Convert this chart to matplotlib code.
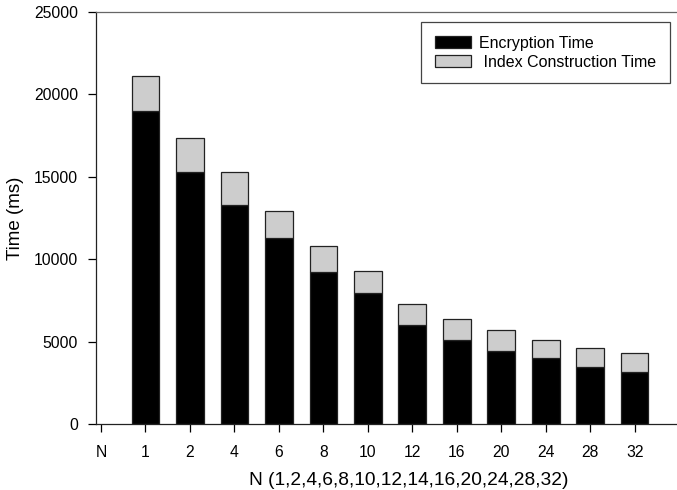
#!/usr/bin/env python3

import matplotlib
matplotlib.use('Agg')
import matplotlib.pyplot as plt
import numpy as np


# Datos del experimento
etiquetas = ['N', '1', '2', '4', '6', '8', '10', '12', '16', '20', '24', '28', '32']
encriptacion = [19000, 15300, 13300, 11270, 9200, 7970, 6000, 5100, 4450, 3990, 3480, 3180]
indice = [2100, 2030, 2000, 1680, 1580, 1330, 1300, 1270, 1250, 1130, 1110, 1110]

plt.rcParams['font.family'] = ['Liberation Sans', 'DejaVu Sans']

fig = plt.figure(figsize=(6.77, 4.9), dpi=100)
ax = fig.add_axes([96 / 677, 66 / 490, 625 / 677, 412 / 490])

x = np.arange(1, len(encriptacion) + 1)
ancho = 0.62
ax.bar(x, encriptacion, ancho, color='black', edgecolor='#222222',
       linewidth=0.9, label='Encryption Time')
ax.bar(x, indice, ancho, bottom=encriptacion, color='#cdcdcd',
       edgecolor='#222222', linewidth=0.9, label=' Index Construction Time')

ax.set_xlim(-0.11, 13.94)
ax.set_ylim(0, 25000)
ax.set_xticks(np.arange(len(etiquetas)))
ax.set_xticklabels(etiquetas)
ax.set_yticks(np.arange(0, 25001, 5000))

ax.tick_params(axis='both', direction='out', length=6, width=0.9,
               labelsize=11.3, colors='black')
ax.tick_params(axis='x', pad=9)
ax.tick_params(axis='y', pad=7)

ax.spines['right'].set_visible(False)
ax.spines['left'].set_color('#222222')
ax.spines['bottom'].set_color('#222222')
ax.spines['top'].set_color('#666666')
for s in ['left', 'bottom', 'top']:
    ax.spines[s].set_linewidth(0.9)

ax.set_xlabel('N (1,2,4,6,8,10,12,14,16,20,24,28,32)', fontsize=13.8, labelpad=9)
ax.set_ylabel('Time (ms)', fontsize=13.5, labelpad=7)

leg = ax.legend(loc='upper right', bbox_to_anchor=(670 / 677, 1 - 22 / 490),
                bbox_transform=fig.transFigure, borderaxespad=0,
                fontsize=11.5, fancybox=False, framealpha=1,
                edgecolor='#444444', handlelength=2.3, handleheight=0.8,
                handletextpad=0.5, labelspacing=0.25, borderpad=0.85)
leg.get_frame().set_linewidth(0.9)

fig.savefig('out.png', dpi=100)
